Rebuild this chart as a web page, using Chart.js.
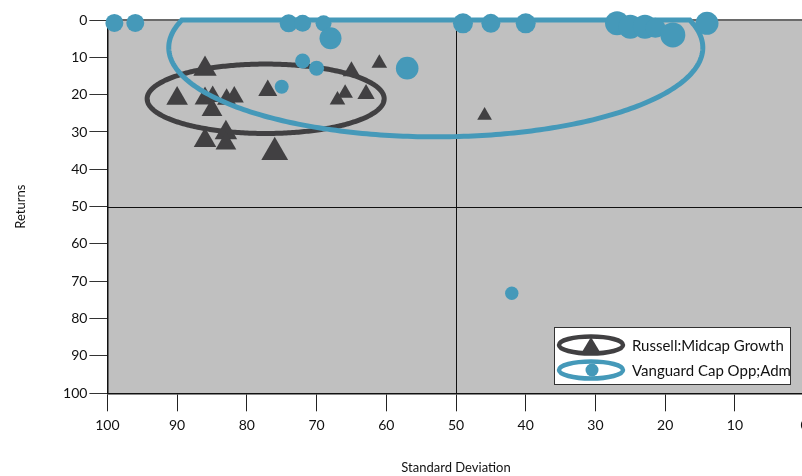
<!DOCTYPE html>
<html>
<head>
<meta charset="utf-8">
<script src="https://cdn.jsdelivr.net/npm/chart.js@4.4.1/dist/chart.umd.min.js"></script>
<style>
html, body { margin: 0; padding: 0; background: #fff; overflow: hidden; }
#wrap { width: 830px; height: 476px; }
</style>
</head>
<body>
<div id="wrap"><canvas id="riskChart" width="830" height="476"></canvas></div>
<script>
const xTicks = [100, 90, 80, 70, 60, 50, 40, 30, 20, 10, 0]
const yTicks = [0, 10, 20, 30, 40, 50, 60, 70, 80, 90, 100]
const seriesNames = ['Russell:Midcap Growth', 'Vanguard Cap Opp;Adm']

// Russell:Midcap Growth - standard deviation / returns
const russellStdDev = [86, 90, 86, 84.9, 82.9, 81.8, 85, 86, 83, 83, 76, 77, 65, 61, 65.9, 62.9, 67, 45.9]
const russellReturns = [13.1, 21.0, 21.0, 20.5, 21.2, 20.6, 24.1, 32.3, 30.2, 33.1, 35.4, 18.9, 13.7, 11.6, 19.6, 19.8, 21.4, 25.6]

// Vanguard Cap Opp;Adm
const vanguardStdDev = [99, 96, 74, 72, 69, 68, 72, 70, 57, 75, 49, 45, 40, 26.9, 25, 22.9, 21.4, 18.9, 14, 42]
const vanguardReturns = [0.8, 0.8, 0.9, 0.9, 0.9, 4.9, 11, 12.9, 12.9, 17.9, 0.9, 0.9, 0.9, 0.9, 1.8, 1.8, 2.1, 4.0, 0.9, 73.2]

// ellipses: centre std dev, centre return, half width, half height (axis units)
const russellEllipse = [77.3, 21.1, 17.0, 9.3]
const vanguardEllipse = [52.9, 7.4, 38.3, 23.9]

const darkGrey = '#414042'
const teal = '#4599b9'
const font = 'Lato, "DejaVu Sans", sans-serif'

// marker sizes
const russellRadius = [13.5, 12.5, 12, 11, 11, 11, 12, 13, 13, 12, 15.5, 11, 10, 9, 9, 10, 9, 8.5]
const vanguardRadius = [9, 9, 9, 8.5, 8, 11, 7.5, 7.5, 11.3, 7, 10, 9.5, 10, 12, 12, 12, 10, 12.5, 11.5, 6.7]

function toPoints(xs, ys) {
    return xs.map((x, i) => ({ x: x, y: ys[i] }))
}

function drawEllipse(chart, e, color, clampTop) {
    const { ctx, scales, chartArea } = chart
    const cx = scales.x.getPixelForValue(e[0])
    const cy = scales.y.getPixelForValue(e[1])
    const rx = Math.abs(scales.x.getPixelForValue(e[0] + e[2]) - cx)
    const ry = Math.abs(scales.y.getPixelForValue(e[1] + e[3]) - cy)
    const top = scales.y.getPixelForValue(0)
    ctx.save()
    ctx.strokeStyle = color
    ctx.lineWidth = 5
    ctx.beginPath()
    for (let i = 0; i <= 360; i++) {
        const t = i * Math.PI / 180
        const px = cx + rx * Math.cos(t)
        let py = cy + ry * Math.sin(t)
        if (clampTop) py = Math.max(py, top)
        if (i === 0) ctx.moveTo(px, py)
        else ctx.lineTo(px, py)
    }
    ctx.closePath()
    ctx.stroke()
    ctx.restore()
}

const decorations = {
    id: 'decorations',
    beforeDraw(chart) {
        const { ctx, chartArea: a } = chart
        ctx.save()
        ctx.fillStyle = '#c0c0c0'
        ctx.fillRect(a.left, a.top, a.right - a.left, a.bottom - a.top)
        ctx.restore()
    },
    beforeDatasetsDraw(chart) {
        const { ctx, chartArea: a, scales } = chart
        ctx.save()
        ctx.strokeStyle = '#6a6a6a'
        ctx.lineWidth = 2
        ctx.beginPath()
        ctx.moveTo(a.left, a.top)
        ctx.lineTo(a.right, a.top)
        ctx.stroke()
        ctx.strokeStyle = '#111'
        ctx.lineWidth = 1
        const mx = Math.round(scales.x.getPixelForValue(50)) + 0.5
        const my = Math.round(scales.y.getPixelForValue(50)) + 0.5
        ctx.beginPath()
        ctx.moveTo(mx, a.top)
        ctx.lineTo(mx, a.bottom)
        ctx.moveTo(a.left, my)
        ctx.lineTo(a.right, my)
        ctx.stroke()
        ctx.restore()
    },
    beforeDatasetDraw(chart, args) {
        if (args.index === 0) drawEllipse(chart, russellEllipse, darkGrey, false)
        if (args.index === 1) drawEllipse(chart, vanguardEllipse, teal, true)
    },
    afterDraw(chart) {
        const ctx = chart.ctx
        ctx.save()
        ctx.fillStyle = '#fff'
        ctx.strokeStyle = '#333'
        ctx.lineWidth = 1
        ctx.fillRect(554.5, 327.5, 236, 57)
        ctx.strokeRect(554.5, 327.5, 236, 57)
        const rows = [345, 370]
        const colors = [darkGrey, teal]
        rows.forEach((y, i) => {
            ctx.strokeStyle = colors[i]
            ctx.lineWidth = 4.5
            ctx.beginPath()
            ctx.ellipse(591, y, 32, 8.5, 0, 0, Math.PI * 2)
            ctx.stroke()
            ctx.fillStyle = colors[i]
            ctx.beginPath()
            if (i === 0) {
                ctx.moveTo(591, y - 8)
                ctx.lineTo(600, y + 7)
                ctx.lineTo(582, y + 7)
                ctx.closePath()
            } else {
                ctx.arc(592, y, 6.5, 0, Math.PI * 2)
            }
            ctx.fill()
            ctx.fillStyle = '#111'
            ctx.font = '15px ' + font
            ctx.textBaseline = 'middle'
            ctx.fillText(seriesNames[i], 632, y + 1)
        })
        ctx.restore()
    }
}

const ctx = document.getElementById('riskChart')
const chart = new Chart(ctx, {
    type: 'scatter',
    data: {
        datasets: [{
            label: seriesNames[0],
            data: toPoints(russellStdDev, russellReturns),
            pointStyle: 'triangle',
            pointRadius: russellRadius,
            backgroundColor: darkGrey,
            borderWidth: 0,
            clip: false,
            order: 2
        }, {
            label: seriesNames[1],
            data: toPoints(vanguardStdDev, vanguardReturns),
            pointStyle: 'circle',
            pointRadius: vanguardRadius,
            backgroundColor: teal,
            borderWidth: 0,
            clip: false,
            order: 1
        }]
    },
    options: {
        responsive: false,
        animation: false,
        layout: { padding: { left: 0, top: 20, right: 25.4, bottom: 0 } },
        plugins: {
            legend: { display: false },
            tooltip: { enabled: false }
        },
        scales: {
            x: {
                type: 'linear',
                reverse: true,
                min: 0,
                max: 100,
                afterBuildTicks: s => { s.ticks = xTicks.map(v => ({ value: v })) },
                afterFit: s => { s.height = 82.7 },
                ticks: { autoSkip: false, maxRotation: 0, padding: 6, color: '#111', font: { family: font, size: 14 } },
                grid: { drawOnChartArea: false, tickLength: 18, color: '#222' },
                border: { color: '#111', width: 1.5 },
                title: { display: true, text: 'Standard Deviation', color: '#111', font: { family: font, size: 13 }, padding: { top: 0, bottom: 0 } }
            },
            y: {
                type: 'linear',
                reverse: true,
                min: 0,
                max: 100,
                afterBuildTicks: s => { s.ticks = yTicks.map(v => ({ value: v })) },
                afterFit: s => { s.width = 107.4 },
                ticks: { padding: 2, color: '#111', font: { family: font, size: 14 } },
                grid: { drawOnChartArea: false, tickLength: 18, color: '#333' },
                border: { color: '#111', width: 1.5 },
                title: { display: true, text: 'Returns', color: '#111', font: { family: font, size: 13 }, padding: { top: 13, bottom: 0 } }
            }
        }
    },
    plugins: [decorations]
})
</script>
</body>
</html>
